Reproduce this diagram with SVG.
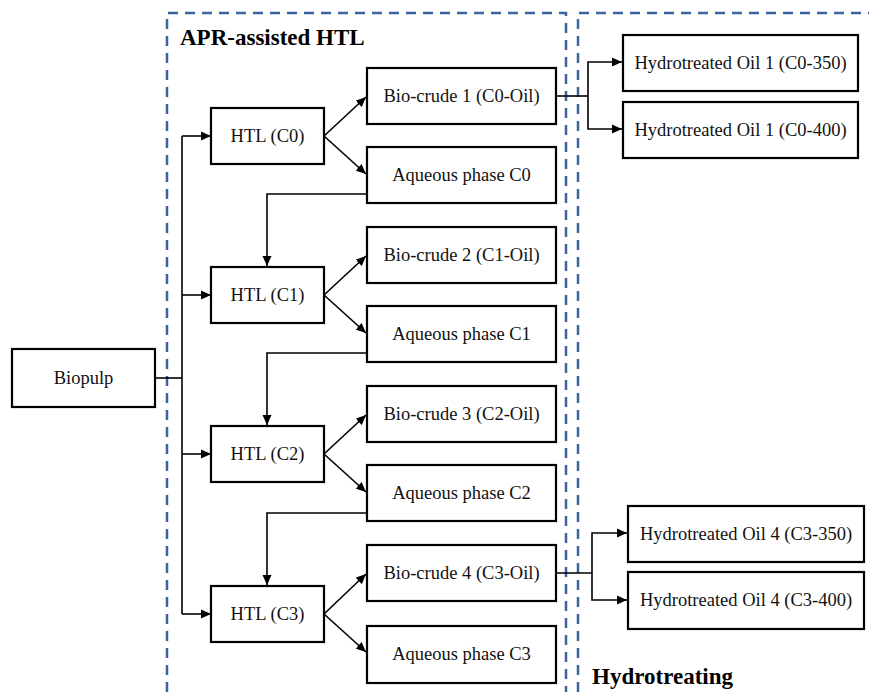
<svg xmlns="http://www.w3.org/2000/svg" width="869" height="693" viewBox="0 0 869 693">
<defs>
<marker id="ah" viewBox="0 0 10 10" refX="10" refY="5" markerWidth="10" markerHeight="10" markerUnits="userSpaceOnUse" orient="auto">
<path d="M0,0.5 L10,5 L0,9.5 z" fill="#000"/>
</marker>
<style>
.box{fill:#fff;stroke:#000;stroke-width:2.2}
.t{font-family:"Liberation Serif","Times New Roman",serif;font-size:18.5px;fill:#111;text-anchor:middle;dominant-baseline:central}
.h{font-family:"Liberation Serif","Times New Roman",serif;font-size:23px;font-weight:bold;fill:#000}
.dash{fill:none;stroke:#3b63a0;stroke-width:2.5;stroke-dasharray:10 7}
.c{fill:none;stroke:#000;stroke-width:1.6}
.a{fill:none;stroke:#000;stroke-width:1.6;marker-end:url(#ah)}
</style>
</defs>
<rect width="869" height="693" fill="#fff"/>
<g id="regions">
<path class="dash" d="M167,692 L167,13 L566,13 L566,692"/>
<path class="dash" d="M578,692 L578,13 L869,13"/>
<text class="h" x="180" y="45">APR-assisted HTL</text>
<text class="h" x="592" y="684">Hydrotreating</text>
</g>
<g id="connectors">
<path class="c" d="M155,378 L182,378"/>
<path class="c" d="M182,136 L182,614"/>
<path class="a" d="M182,136 L211,136"/>
<path class="a" d="M182,295 L211,295"/>
<path class="a" d="M182,454 L211,454"/>
<path class="a" d="M182,614 L211,614"/>
<path class="a" d="M324,136 L366,97"/>
<path class="a" d="M324,136 L366,174"/>
<path class="a" d="M324,295 L366,256"/>
<path class="a" d="M324,295 L366,333"/>
<path class="a" d="M324,454 L366,415"/>
<path class="a" d="M324,454 L366,492"/>
<path class="a" d="M324,614 L366,574"/>
<path class="a" d="M324,614 L366,652"/>
<path class="a" d="M367,194 L267,194 L267,266"/>
<path class="a" d="M367,353 L267,353 L267,425"/>
<path class="a" d="M367,513 L267,513 L267,585"/>
<path class="c" d="M556,96 L588,96"/>
<path class="a" d="M588,96 L588,62 L622,62"/>
<path class="a" d="M588,96 L588,129 L622,129"/>
<path class="c" d="M556,573 L592,573"/>
<path class="a" d="M592,573 L592,533 L627,533"/>
<path class="a" d="M592,573 L592,600 L627,600"/>
</g>
<g id="biopulp"><rect class="box" x="12" y="349" width="143" height="58"/><text class="t" x="83.5" y="378">Biopulp</text></g>
<g id="htl-c0"><rect class="box" x="211" y="108" width="113" height="56"/><text class="t" x="267.5" y="136">HTL (C0)</text></g>
<g id="htl-c1"><rect class="box" x="211" y="267" width="113" height="56"/><text class="t" x="267.5" y="295">HTL (C1)</text></g>
<g id="htl-c2"><rect class="box" x="211" y="426" width="113" height="56"/><text class="t" x="267.5" y="454">HTL (C2)</text></g>
<g id="htl-c3"><rect class="box" x="211" y="586" width="113" height="56"/><text class="t" x="267.5" y="614">HTL (C3)</text></g>
<g id="biocrude-1"><rect class="box" x="367" y="68" width="189" height="56"/><text class="t" x="461.5" y="96">Bio-crude 1 (C0-Oil)</text></g>
<g id="aqueous-c0"><rect class="box" x="367" y="147" width="189" height="56"/><text class="t" x="461.5" y="175">Aqueous phase C0</text></g>
<g id="biocrude-2"><rect class="box" x="367" y="227" width="189" height="56"/><text class="t" x="461.5" y="255">Bio-crude 2 (C1-Oil)</text></g>
<g id="aqueous-c1"><rect class="box" x="367" y="306" width="189" height="56"/><text class="t" x="461.5" y="334">Aqueous phase C1</text></g>
<g id="biocrude-3"><rect class="box" x="367" y="386" width="189" height="56"/><text class="t" x="461.5" y="414">Bio-crude 3 (C2-Oil)</text></g>
<g id="aqueous-c2"><rect class="box" x="367" y="465" width="189" height="56"/><text class="t" x="461.5" y="493">Aqueous phase C2</text></g>
<g id="biocrude-4"><rect class="box" x="367" y="545" width="189" height="56"/><text class="t" x="461.5" y="573">Bio-crude 4 (C3-Oil)</text></g>
<g id="aqueous-c3"><rect class="box" x="367" y="626" width="189" height="57"/><text class="t" x="461.5" y="654">Aqueous phase C3</text></g>
<g id="ho1-350"><rect class="box" x="623" y="35" width="235" height="56"/><text class="t" x="740.5" y="63">Hydrotreated Oil 1 (C0-350)</text></g>
<g id="ho1-400"><rect class="box" x="623" y="102" width="235" height="56"/><text class="t" x="740.5" y="130">Hydrotreated Oil 1 (C0-400)</text></g>
<g id="ho4-350"><rect class="box" x="628" y="506" width="236" height="56"/><text class="t" x="746" y="534">Hydrotreated Oil 4 (C3-350)</text></g>
<g id="ho4-400"><rect class="box" x="628" y="572" width="236" height="57"/><text class="t" x="746" y="600">Hydrotreated Oil 4 (C3-400)</text></g>
</svg>
